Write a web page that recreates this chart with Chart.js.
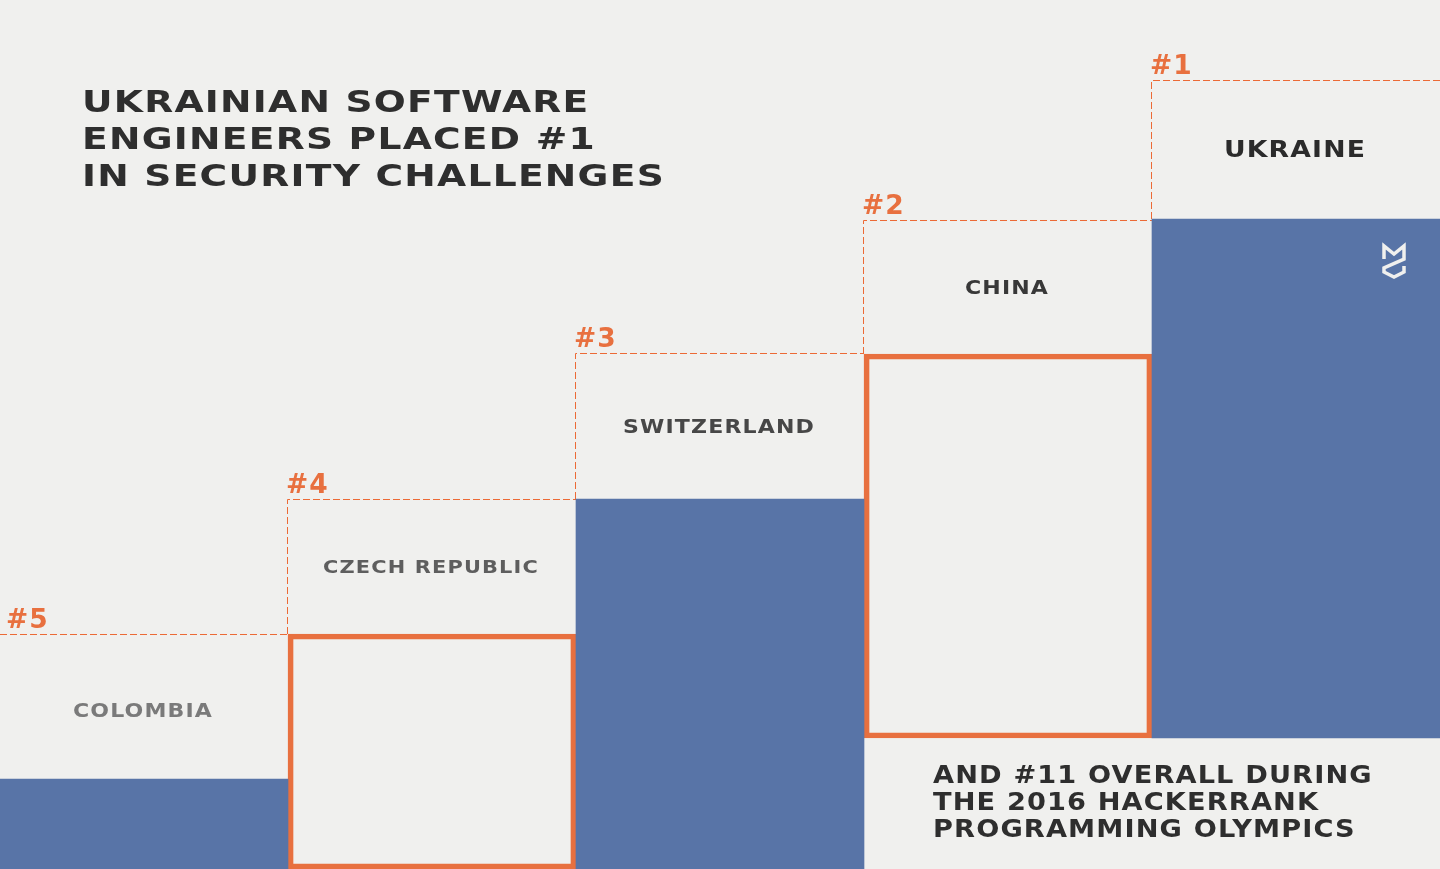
<!DOCTYPE html>
<html>
<head>
<meta charset="utf-8">
<script src="https://cdn.jsdelivr.net/npm/chart.js@4"></script>
<style>
  html, body { margin: 0; padding: 0; background: #f0f0ee; }
  #wrap { width: 1440px; height: 869px; position: relative; }
</style>
</head>
<body>
<div id="wrap"><canvas id="myChart"></canvas></div>
<script>
// data
const countries = ["COLOMBIA", "CZECH REPUBLIC", "SWITZERLAND", "CHINA", "UKRAINE"];
const ranks = ["#5", "#4", "#3", "#2", "#1"];
const barBottom = [0, 0, 0, 131, 131];
const barTop = [90, 235, 370, 515, 650];
const rankLine = [235, 370, 516, 649, 789];
const titleLines = ["UKRAINIAN SOFTWARE", "ENGINEERS PLACED #1", "IN SECURITY CHALLENGES"];
const noteLines = ["AND #11 OVERALL DURING", "THE 2016 HACKERRANK", "PROGRAMMING OLYMPICS"];

// styles
const blue = "#5874a7";
const orange = "#e8703f";
const outlined = [false, true, false, true, false];
const labelSize = [19, 18, 19, 19, 23];
const labelColor = ["#7a7a7a", "#5e5e5e", "#474747", "#383838", "#2b2b2b"];
const FONT = "'DejaVu Sans', sans-serif";

let filled = [];
let boxed = [];
for (let i = 0; i < countries.length; i++) {
    const bar = [barBottom[i], barTop[i]];
    filled.push(outlined[i] ? null : bar);
    boxed.push(outlined[i] ? bar : null);
}

function stretchText(ctx, text, x, y, sx, align) {
    ctx.save();
    ctx.translate(x, y);
    ctx.scale(sx, 1);
    ctx.textAlign = align;
    ctx.fillText(text, 0, 0);
    ctx.restore();
}

function fitScale(ctx, text, width) {
    return width / ctx.measureText(text).width;
}

const decor = {
    id: "decor",
    beforeDatasetsDraw(chart) {
        const ctx = chart.ctx, x = chart.scales.x, y = chart.scales.y;
        const half = (x.getPixelForValue(1) - x.getPixelForValue(0)) / 2;
        ctx.save();
        ctx.strokeStyle = "#ec6a36";
        ctx.lineWidth = 1;
        ctx.setLineDash([7, 3]);
        for (let i = 0; i < countries.length; i++) {
            const left = Math.round(x.getPixelForValue(i) - half) - 0.5;
            const right = x.getPixelForValue(i) + half;
            const top = Math.round(y.getPixelForValue(rankLine[i])) + 0.5;
            const bottom = y.getPixelForValue(barTop[i]);
            ctx.beginPath();
            if (left > 1) {
                ctx.moveTo(left, bottom);
                ctx.lineTo(left, top);
            } else {
                ctx.moveTo(0, top);
            }
            ctx.lineTo(right, top);
            ctx.stroke();
        }
        ctx.restore();
    },
    afterDatasetsDraw(chart) {
        const ctx = chart.ctx, x = chart.scales.x, y = chart.scales.y;
        const half = (x.getPixelForValue(1) - x.getPixelForValue(0)) / 2;
        ctx.save();
        ctx.letterSpacing = "1px";

        // rank labels and country names
        for (let i = 0; i < countries.length; i++) {
            const cx = x.getPixelForValue(i);
            const lineY = y.getPixelForValue(rankLine[i]);
            const topY = y.getPixelForValue(barTop[i]);
            ctx.fillStyle = orange;
            ctx.font = "bold 26px " + FONT;
            ctx.textBaseline = "alphabetic";
            stretchText(ctx, ranks[i], Math.max(cx - half - 2, 6), lineY - 6, 1.02, "left");

            ctx.fillStyle = labelColor[i];
            ctx.font = "bold " + labelSize[i] + "px " + FONT;
            ctx.textBaseline = "middle";
            stretchText(ctx, countries[i], cx - 1, (lineY + topY) / 2 + (i === 0 ? 6 : 2), 1.16, "center");
        }

        // title
        ctx.fillStyle = "#2e2e2e";
        ctx.textBaseline = "alphabetic";
        ctx.font = "bold 30px " + FONT;
        let sx = fitScale(ctx, titleLines[2], 583);
        titleLines.forEach((t, k) => stretchText(ctx, t, 82, 112 + k * 37, sx, "left"));

        // note under the top bars
        ctx.font = "bold 24px " + FONT;
        sx = (fitScale(ctx, noteLines[0], 425) + fitScale(ctx, noteLines[2], 437)) / 2;
        noteLines.forEach((t, k) => stretchText(ctx, t, 933, 783 + k * 27, sx, "left"));

        // logo mark
        ctx.strokeStyle = "#f0f0ee";
        ctx.lineWidth = 3.5;
        ctx.lineJoin = "miter";
        ctx.beginPath();
        ctx.moveTo(1384, 259);
        ctx.lineTo(1384, 246);
        ctx.lineTo(1394, 254);
        ctx.lineTo(1404, 246);
        ctx.lineTo(1404, 259);
        ctx.lineTo(1384, 268);
        ctx.lineTo(1384, 272);
        ctx.lineTo(1394, 277);
        ctx.lineTo(1404, 272);
        ctx.lineTo(1404, 266);
        ctx.stroke();
        ctx.restore();
    }
};

new Chart("myChart", {
    type: "bar",
    data: {
        labels: countries,
        datasets: [{
            data: filled,
            backgroundColor: blue,
            borderWidth: 0
        }, {
            data: boxed,
            backgroundColor: "rgba(0,0,0,0)",
            borderColor: orange,
            borderWidth: 5,
            borderSkipped: false
        }]
    },
    options: {
        responsive: true,
        maintainAspectRatio: false,
        animation: false,
        layout: { padding: 0 },
        datasets: { bar: { grouped: false, categoryPercentage: 1, barPercentage: 1 } },
        plugins: { legend: { display: false }, tooltip: { enabled: false } },
        scales: {
            x: { display: false },
            y: { display: false, min: 0, max: 869 }
        }
    },
    plugins: [decor]
});
</script>
</body>
</html>
